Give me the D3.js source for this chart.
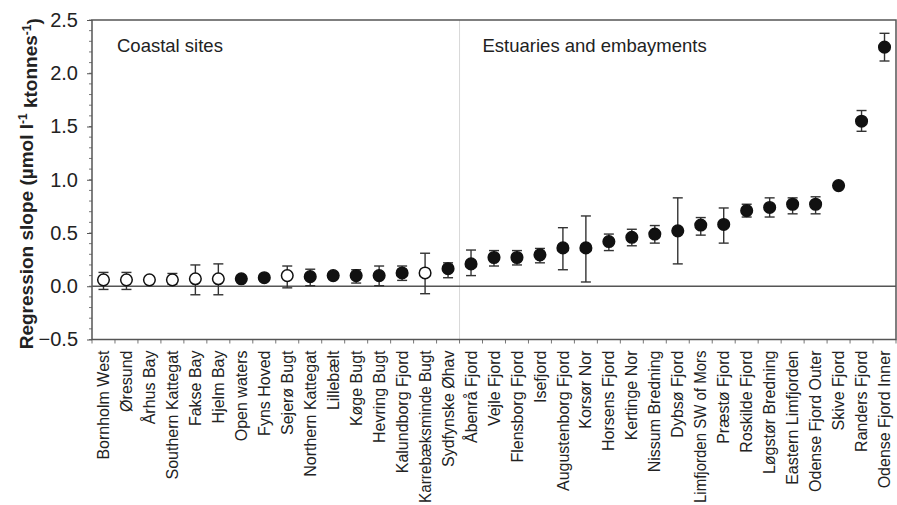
<!DOCTYPE html>
<html>
<head>
<meta charset="utf-8">
<script src="https://cdn.jsdelivr.net/npm/d3@7"></script>
<style>
  body { margin: 0; background: #fff; }
  text { font-family: "Liberation Sans", Arial, sans-serif; fill: #222; }
</style>
</head>
<body>
<svg id="chart" width="897" height="505"></svg>
<script>
// Sites, ordered by regression slope
const sites = [
  "Bornholm West", "Øresund", "Århus Bay", "Southern Kattegat", "Fakse Bay",
  "Hjelm Bay", "Open waters", "Fyns Hoved", "Sejerø Bugt", "Northern Kattegat",
  "Lillebælt", "Køge Bugt", "Hevring Bugt", "Kalundborg Fjord",
  "Karrebæksminde Bugt", "Sydfynske Øhav",
  "Åbenrå Fjord", "Vejle Fjord", "Flensborg Fjord", "Isefjord",
  "Augustenborg Fjord", "Korsør Nor", "Horsens Fjord", "Kertinge Nor",
  "Nissum Bredning", "Dybsø Fjord", "Limfjorden SW of Mors", "Præstø Fjord",
  "Roskilde Fjord", "Løgstør Bredning", "Eastern Limfjorden",
  "Odense Fjord Outer", "Skive Fjord", "Randers Fjord", "Odense Fjord Inner"
];

// Regression slope (µmol l-1 ktonnes-1)
const slopes = [
  0.06, 0.06, 0.06, 0.06, 0.07, 0.07, 0.07, 0.08, 0.10, 0.09,
  0.10, 0.10, 0.10, 0.125, 0.125, 0.165,
  0.21, 0.27, 0.27, 0.295, 0.36, 0.36, 0.42, 0.46,
  0.49, 0.52, 0.575, 0.58, 0.71, 0.74, 0.77,
  0.77, 0.945, 1.55, 2.245
];

// Upper and lower ends of the error bars
const upper = [
  0.13, 0.13, 0.07, 0.12, 0.20, 0.21, 0.09, 0.10, 0.19, 0.16,
  0.13, 0.155, 0.19, 0.19, 0.31, 0.22,
  0.34, 0.335, 0.335, 0.355, 0.55, 0.66, 0.49, 0.535,
  0.57, 0.83, 0.645, 0.735, 0.77, 0.83, 0.83,
  0.84, 0.97, 1.65, 2.375
];
const lower = [
  -0.03, -0.03, 0.05, 0.02, -0.08, -0.08, 0.05, 0.05, -0.015, 0.005,
  0.07, 0.03, 0.005, 0.055, -0.07, 0.08,
  0.10, 0.19, 0.20, 0.22, 0.155, 0.04, 0.335, 0.38,
  0.405, 0.21, 0.48, 0.405, 0.65, 0.65, 0.68,
  0.68, 0.92, 1.455, 2.115
];

// Marker style for each site
const markers = [
  "open", "open", "open", "open", "open", "open", "filled", "filled", "open", "filled",
  "filled", "filled", "filled", "filled", "open", "filled",
  "filled", "filled", "filled", "filled", "filled", "filled", "filled", "filled",
  "filled", "filled", "filled", "filled", "filled", "filled", "filled",
  "filled", "filled", "filled", "filled"
];

// Site groups and the first site in each
const groups = ["Coastal sites", "Estuaries and embayments"];
const groupStart = ["Bornholm West", "Åbenrå Fjord"];

const yTicks = [-0.5, 0.0, 0.5, 1.0, 1.5, 2.0, 2.5];

const svg = d3.select("#chart");
const plotLeft = 92, plotRight = 896, plotTop = 20, plotBottom = 339.5;

const x = d3.scaleBand().domain(sites).range([plotLeft, plotRight]);
const y = d3.scaleLinear().domain([-0.5, 2.5]).range([plotBottom, plotTop]);
const cxOf = s => x(s) + x.bandwidth() / 2;

// Minor ticks every 0.1 on the value axis
const minor = d3.range(-5, 26).map(d => d / 10);
svg.append("g").selectAll("line").data(minor).join("line")
  .attr("x1", plotLeft - 3).attr("x2", plotLeft)
  .attr("y1", d => y(d)).attr("y2", d => y(d))
  .attr("stroke", "#777").attr("stroke-width", 1);

// Value axis
const yAxis = d3.axisLeft(y).tickValues(yTicks).tickFormat(d3.format(".1f"))
  .tickSize(5).tickPadding(9);
const gy = svg.append("g").attr("transform", `translate(${plotLeft},0)`).call(yAxis);
gy.select(".domain").remove();
gy.selectAll(".tick line").attr("stroke", "#555");
gy.selectAll(".tick text").attr("font-size", 20).attr("fill", "#222")
  .attr("font-family", "Liberation Sans, Arial, sans-serif");

// Category ticks sit on the band edges
const edges = sites.map(s => x(s)).concat([plotRight]);
svg.append("g").selectAll("line").data(edges).join("line")
  .attr("x1", d => d).attr("x2", d => d)
  .attr("y1", plotBottom).attr("y2", plotBottom + 4)
  .attr("stroke", "#777");

// Site labels, rotated; the longest ones are squeezed to stay inside the page
const labelTop = plotBottom + 11;
const maxLabel = 505 - labelTop - 2;
svg.append("g").selectAll("text").data(sites).join("text")
  .attr("transform", d => `translate(${cxOf(d)},${labelTop}) rotate(-90)`)
  .attr("dy", "0.35em")
  .attr("text-anchor", "end")
  .attr("font-size", 16)
  .text(d => d)
  .each(function () {
    if (this.getComputedTextLength() > maxLabel) {
      d3.select(this).attr("textLength", maxLabel).attr("lengthAdjust", "spacingAndGlyphs");
    }
  });

// Divider between the two groups
svg.append("line")
  .attr("x1", x(groupStart[1])).attr("x2", x(groupStart[1]))
  .attr("y1", plotTop).attr("y2", plotBottom)
  .attr("stroke", "#d8d8d8").attr("stroke-width", 1);

// Zero line
svg.append("line")
  .attr("x1", plotLeft).attr("x2", plotRight)
  .attr("y1", y(0)).attr("y2", y(0))
  .attr("stroke", "#555").attr("stroke-width", 1.5);

// Plot frame
svg.append("rect")
  .attr("x", plotLeft).attr("y", plotTop)
  .attr("width", plotRight - plotLeft).attr("height", plotBottom - plotTop)
  .attr("fill", "none").attr("stroke", "#555").attr("stroke-width", 1.5);

// Group titles
svg.append("g").selectAll("text").data(groups).join("text")
  .attr("x", (d, i) => x(groupStart[i]) + (i === 0 ? 25 : 23))
  .attr("y", 51.5)
  .attr("font-size", 18.5)
  .text(d => d);

// Error bars
const bars = svg.append("g").attr("stroke", "#333").attr("stroke-width", 1.4);
sites.forEach((s, i) => {
  const cx = cxOf(s);
  bars.append("line").attr("x1", cx).attr("x2", cx)
    .attr("y1", y(upper[i])).attr("y2", y(lower[i]));
  [upper[i], lower[i]].forEach(v => {
    bars.append("line").attr("x1", cx - 5).attr("x2", cx + 5)
      .attr("y1", y(v)).attr("y2", y(v));
  });
});

// Points
svg.append("g").selectAll("circle").data(sites).join("circle")
  .attr("cx", d => cxOf(d))
  .attr("cy", (d, i) => y(slopes[i]))
  .attr("r", 5.8)
  .attr("fill", (d, i) => markers[i] === "open" ? "#fff" : "#111")
  .attr("stroke", "#111")
  .attr("stroke-width", 1.5);

// Axis title
const title = svg.append("text")
  .attr("transform", `translate(33,${(plotTop + plotBottom) / 2 + 4}) rotate(-90)`)
  .attr("text-anchor", "middle")
  .attr("font-size", 19)
  .attr("font-weight", "bold");
title.append("tspan").text("Regression slope (µmol l");
title.append("tspan").attr("dy", "-0.5em").attr("font-size", 12).text("-1");
title.append("tspan").attr("dy", "0.5em").text(" ktonnes");
title.append("tspan").attr("dy", "-0.5em").attr("font-size", 12).text("-1");
title.append("tspan").attr("dy", "0.5em").text(")");
</script>
</body>
</html>
